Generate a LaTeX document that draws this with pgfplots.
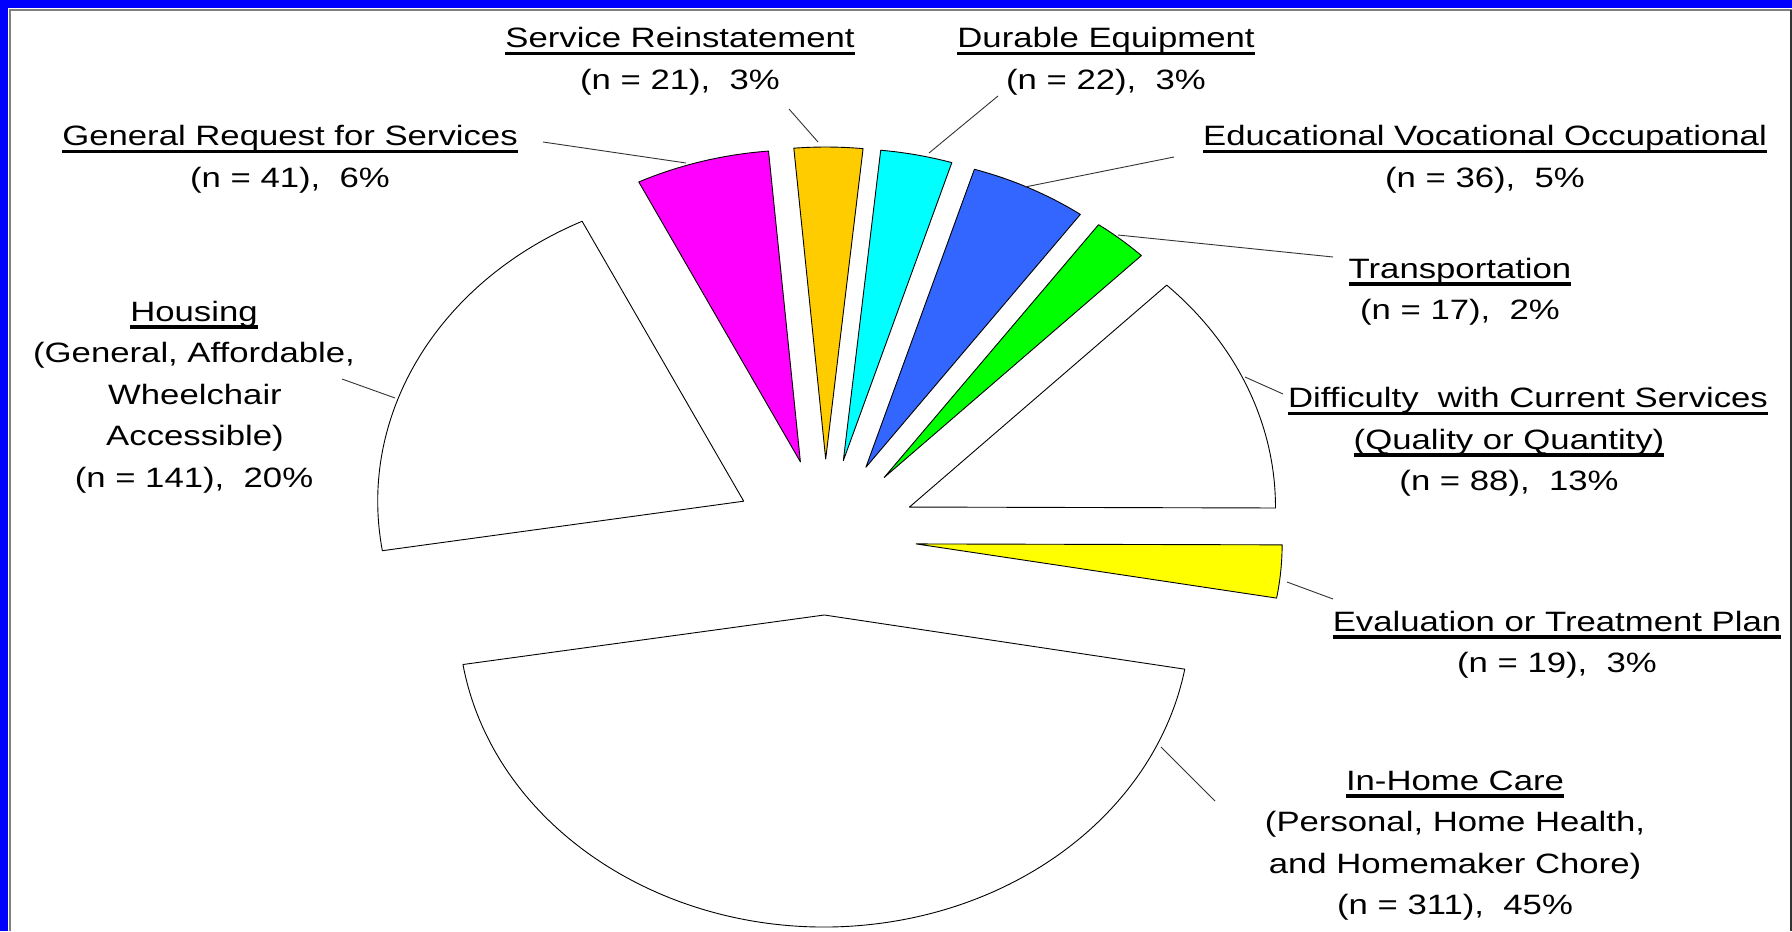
\documentclass[border=0pt]{standalone}
\usepackage{pgfplots}
\pgfplotsset{compat=1.18}
\usepackage{fontspec}
\setmainfont{Liberation Sans}

\definecolor{pmag}{HTML}{FF00FF}
\definecolor{pgold}{HTML}{FFCC00}
\definecolor{pcyan}{HTML}{00FFFF}
\definecolor{pblue}{HTML}{3366FF}
\definecolor{pgreen}{HTML}{00FF00}
\definecolor{pyel}{HTML}{FFFF00}
\definecolor{frameblue}{HTML}{0000FF}

% one picture pixel = 0.5pt
% underline as in the slide
\newcommand\ul[1]{\setbox0\hbox{#1}\rlap{\rule[-3.75pt]{\wd0}{1.65pt}}\box0}

% one exploded slice: #1 = count before it, #2 = its count (total 696), #3 = fill
\newcommand\slice[3]{\pgfplotsextra{%
  \pgfmathsetmacro\sa{-10+#1/696*360}%
  \pgfmathsetmacro\se{-10+(#1+#2)/696*360}%
  \pgfmathsetmacro\sm{(\sa+\se)/2}%
  \pgfmathsetmacro\ax{825+91.5*cos(\sm)}%
  \pgfmathsetmacro\ay{537-78*sin(\sm)}%
  \filldraw[fill=#3,draw=black,line width=0.45pt,line join=round]
    (axis cs:\ax,\ay)
    -- ++(\sa:183pt and 156pt)
    arc[start angle=\sa,end angle=\se,x radius=183pt,y radius=156pt] -- cycle;}}

\newcommand\lab[3]{\node[font=\fontsize{14}{20}\selectfont,xscale=1.24,anchor=base,inner sep=0pt] at (axis cs:#1,#2) {#3};}
\newcommand\lead[4]{\draw[black!80,line width=0.45pt] (axis cs:#1,#2) -- (axis cs:#3,#4);}

\begin{document}
\begin{tikzpicture}
\begin{axis}[
    scale only axis,
    width=896pt, height=465.5pt,
    xmin=0, xmax=1792, ymin=0, ymax=931,
    y dir=reverse,
    axis lines=none,
    ticks=none,
    clip mode=individual,
]
% frame of the slide
\fill[white] (axis cs:0,0) rectangle (axis cs:1792,931);
\fill[frameblue] (axis cs:0,0) rectangle (axis cs:1792,8);
\fill[frameblue] (axis cs:0,0) rectangle (axis cs:8,931);
\draw[gray,line width=1pt] (axis cs:10,931) -- (axis cs:10,10) -- (axis cs:1792,10);
\draw[black!80,line width=1pt] (axis cs:1791,10) -- (axis cs:1791,931);

% slices, counter-clockwise
\slice{0}{19}{pyel}     % Evaluation or Treatment Plan
\slice{19}{88}{white}   % Difficulty with Current Services
\slice{107}{17}{pgreen} % Transportation
\slice{124}{36}{pblue}  % Educational Vocational Occupational
\slice{160}{22}{pcyan}  % Durable Equipment
\slice{182}{21}{pgold}  % Service Reinstatement
\slice{203}{41}{pmag}   % General Request for Services
\slice{244}{141}{white} % Housing
\slice{385}{311}{white} % In-Home Care

% leader lines
\lead{543}{142}{686}{163}
\lead{789}{109}{818}{142}
\lead{998}{96}{929}{153}
\lead{1174}{157}{1025}{187}
\lead{1333}{257}{1118}{235}
\lead{1283}{394}{1245}{377}
\lead{1333}{599}{1287}{582}
\lead{342}{379}{395}{398}
\lead{1215}{801}{1161}{747}

% labels
\lab{680}{48}{\ul{Service Reinstatement}}
\lab{680}{89.5}{(n = 21),\ \ 3\%}
\lab{1106}{48}{\ul{Durable Equipment}}
\lab{1106}{89.5}{(n = 22),\ \ 3\%}
\lab{290}{146}{\ul{General Request for Services}}
\lab{290}{187.5}{(n = 41),\ \ 6\%}
\lab{1485}{146}{\ul{Educational Vocational Occupational}}
\lab{1485}{187.5}{(n = 36),\ \ 5\%}
\lab{1460}{278}{\ul{Transportation}}
\lab{1460}{319.5}{(n = 17),\ \ 2\%}
\lab{194}{321}{\ul{Housing}}
\lab{194}{362.5}{(General, Affordable,}
\lab{195}{404}{Wheelchair}
\lab{195}{445.5}{Accessible)}
\lab{194}{487}{(n = 141),\ \ 20\%}
\lab{1528}{407.5}{\ul{Difficulty\ \ with Current Services}}
\lab{1509}{449}{\ul{(Quality or Quantity)}}
\lab{1509}{490.5}{(n = 88),\ \ 13\%}
\lab{1557}{631}{\ul{Evaluation or Treatment Plan}}
\lab{1557}{672.5}{(n = 19),\ \ 3\%}
\lab{1455}{790}{\ul{In-Home Care}}
\lab{1455}{831.5}{(Personal, Home Health,}
\lab{1455}{873}{and Homemaker Chore)}
\lab{1455}{914.5}{(n = 311),\ \ 45\%}
\end{axis}
% the arcs' control points must not widen the page
\pgfresetboundingbox
\path[use as bounding box] (current axis.south west) rectangle (current axis.north east);
\end{tikzpicture}
\end{document}
